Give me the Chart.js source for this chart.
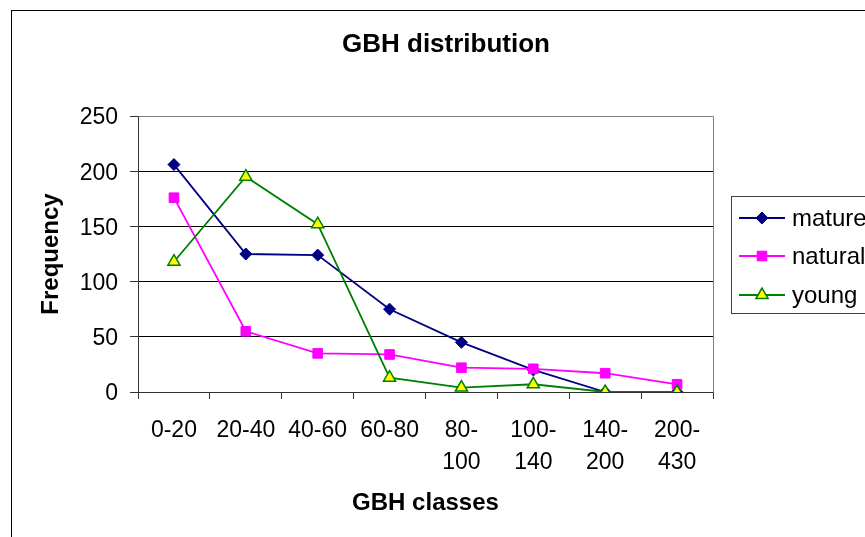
<!DOCTYPE html>
<html>
<head>
<meta charset="utf-8">
<script src="https://cdn.jsdelivr.net/npm/chart.js@4.4.1/dist/chart.umd.min.js"></script>
<style>
  html, body { margin: 0; padding: 0; background: #ffffff; }
  #wrap { width: 865px; height: 537px; }
</style>
</head>
<body>
<div id="wrap"><canvas id="c" width="865" height="537"></canvas></div>
<script>
// GBH class frequencies per stand type
const categories = ['0-20', '20-40', '40-60', '60-80', '80-100', '100-140', '140-200', '200-430'];
const tickLabels = ['0-20', '20-40', '40-60', '60-80', ['80-', '100'], ['100-', '140'], ['140-', '200'], ['200-', '430']];
const mature  = [206, 125, 124, 75, 45, 20, 0, 0];
const natural = [176, 55, 35, 34, 22, 21, 17, 7];
const young   = [118, 195, 152, 13, 4, 7, 0, 0];
const yTicks  = [0, 50, 100, 150, 200, 250];

const FONT = '"Liberation Sans", Arial, sans-serif';

const series = [
  { label: 'mature',  data: mature,  line: '#000080', fill: '#000080', edge: '#000080', style: 'rectRot',  radius: 6,   bw: 1,   order: 3 },
  { label: 'natural', data: natural, line: '#FF00FF', fill: '#FF00FF', edge: '#FF00FF', style: 'rect',     radius: 6.8, bw: 1,   order: 2 },
  { label: 'young',   data: young,   line: '#008000', fill: '#FFFF00', edge: '#008000', style: 'triangle', radius: 7,   bw: 1.5, order: 1 }
];

// Page furniture: outer frame, title, plot border and a legend box that runs off the right edge
const furniture = {
  id: 'furniture',
  beforeDraw(chart) {
    const ctx = chart.ctx;
    ctx.save();
    ctx.fillStyle = '#ffffff';
    ctx.fillRect(0, 0, chart.width, chart.height);
    ctx.restore();
  },
  beforeDatasetsDraw(chart) {
    const ctx = chart.ctx, a = chart.chartArea;
    ctx.save();
    ctx.strokeStyle = '#808080';
    ctx.lineWidth = 1;
    ctx.beginPath();
    ctx.moveTo(Math.round(a.left) + 0.5, Math.round(a.top) + 0.5);
    ctx.lineTo(Math.round(a.right) + 0.5, Math.round(a.top) + 0.5);
    ctx.lineTo(Math.round(a.right) + 0.5, Math.round(a.bottom) + 0.5);
    ctx.stroke();
    ctx.restore();
  },
  afterDraw(chart) {
    const ctx = chart.ctx;
    ctx.save();
    // outer chart frame
    ctx.strokeStyle = '#000000';
    ctx.lineWidth = 1;
    ctx.strokeRect(11.5, 10.5, 1000, 1000);

    // title
    ctx.fillStyle = '#000000';
    ctx.font = 'bold 26px ' + FONT;
    ctx.textAlign = 'center';
    ctx.textBaseline = 'middle';
    ctx.fillText('GBH distribution', 446, 45);

    // legend
    const box = { x: 731.5, y: 196.5, w: 300, h: 117 };
    ctx.fillStyle = '#ffffff';
    ctx.fillRect(box.x, box.y, box.w, box.h);
    ctx.strokeStyle = '#404040';
    ctx.strokeRect(box.x, box.y, box.w, box.h);
    const rows = [218, 256, 295];
    chart.data.datasets.forEach((ds, i) => {
      const y = rows[i];
      ctx.strokeStyle = ds.borderColor;
      ctx.lineWidth = 1.8;
      ctx.beginPath();
      ctx.moveTo(739, y);
      ctx.lineTo(785, y);
      ctx.stroke();
      ctx.fillStyle = ds.pointBackgroundColor;
      ctx.strokeStyle = ds.pointBorderColor;
      ctx.lineWidth = ds.pointBorderWidth;
      Chart.helpers.drawPoint(ctx, {
        pointStyle: ds.pointStyle, radius: ds.pointRadius, rotation: 0, borderWidth: ds.pointBorderWidth
      }, 762, y);
      ctx.fillStyle = '#000000';
      ctx.font = '24px ' + FONT;
      ctx.textAlign = 'left';
      ctx.textBaseline = 'middle';
      ctx.fillText(ds.label, 792, y + 1);
    });
    ctx.restore();
  }
};

new Chart(document.getElementById('c'), {
  type: 'line',
  data: {
    labels: categories,
    datasets: series.map(s => ({
      label: s.label,
      data: s.data,
      borderColor: s.line,
      backgroundColor: s.fill,
      borderWidth: 1.8,
      tension: 0,
      fill: false,
      order: s.order,
      pointStyle: s.style,
      pointRadius: s.radius,
      pointHoverRadius: s.radius,
      pointBackgroundColor: s.fill,
      pointBorderColor: s.edge,
      pointBorderWidth: s.bw
    }))
  },
  options: {
    responsive: false,
    animation: false,
    devicePixelRatio: 1,
    layout: { padding: { left: 37, top: 116, right: 152, bottom: 19 } },
    plugins: {
      legend: { display: false },
      title: { display: false },
      tooltip: { enabled: false }
    },
    scales: {
      x: {
        type: 'category',
        offset: true,
        afterFit(scale) { scale.height = 126; },
        grid: {
          offset: true,
          drawOnChartArea: false,
          drawTicks: true,
          tickLength: 7,
          color: '#333333',
          lineWidth: 1
        },
        border: { display: true, color: '#333333', width: 1 },
        ticks: {
          autoSkip: false,
          maxRotation: 0,
          minRotation: 0,
          padding: 16,
          color: '#000000',
          font: { family: FONT, size: 23, lineHeight: 1.39 },
          callback: (v, i) => tickLabels[i]
        },
        title: {
          display: true,
          text: 'GBH classes',
          color: '#000000',
          padding: 0,
          font: { family: FONT, size: 24, weight: 'bold', lineHeight: 1.2 }
        }
      },
      y: {
        min: 0,
        max: 250,
        afterFit(scale) { scale.width = 101; },
        afterBuildTicks(scale) { scale.ticks = yTicks.map(v => ({ value: v })); },
        grid: {
          drawOnChartArea: true,
          drawTicks: true,
          tickLength: 8,
          color: '#000000',
          tickColor: '#333333',
          lineWidth: 1
        },
        border: { display: true, color: '#333333', width: 1 },
        ticks: {
          padding: 12,
          labelOffset: 2,
          color: '#000000',
          font: { family: FONT, size: 23 }
        },
        title: {
          display: true,
          text: 'Frequency',
          color: '#000000',
          padding: 0,
          font: { family: FONT, size: 24, weight: 'bold', lineHeight: 1.2 }
        }
      }
    }
  },
  plugins: [furniture]
});
</script>
</body>
</html>
